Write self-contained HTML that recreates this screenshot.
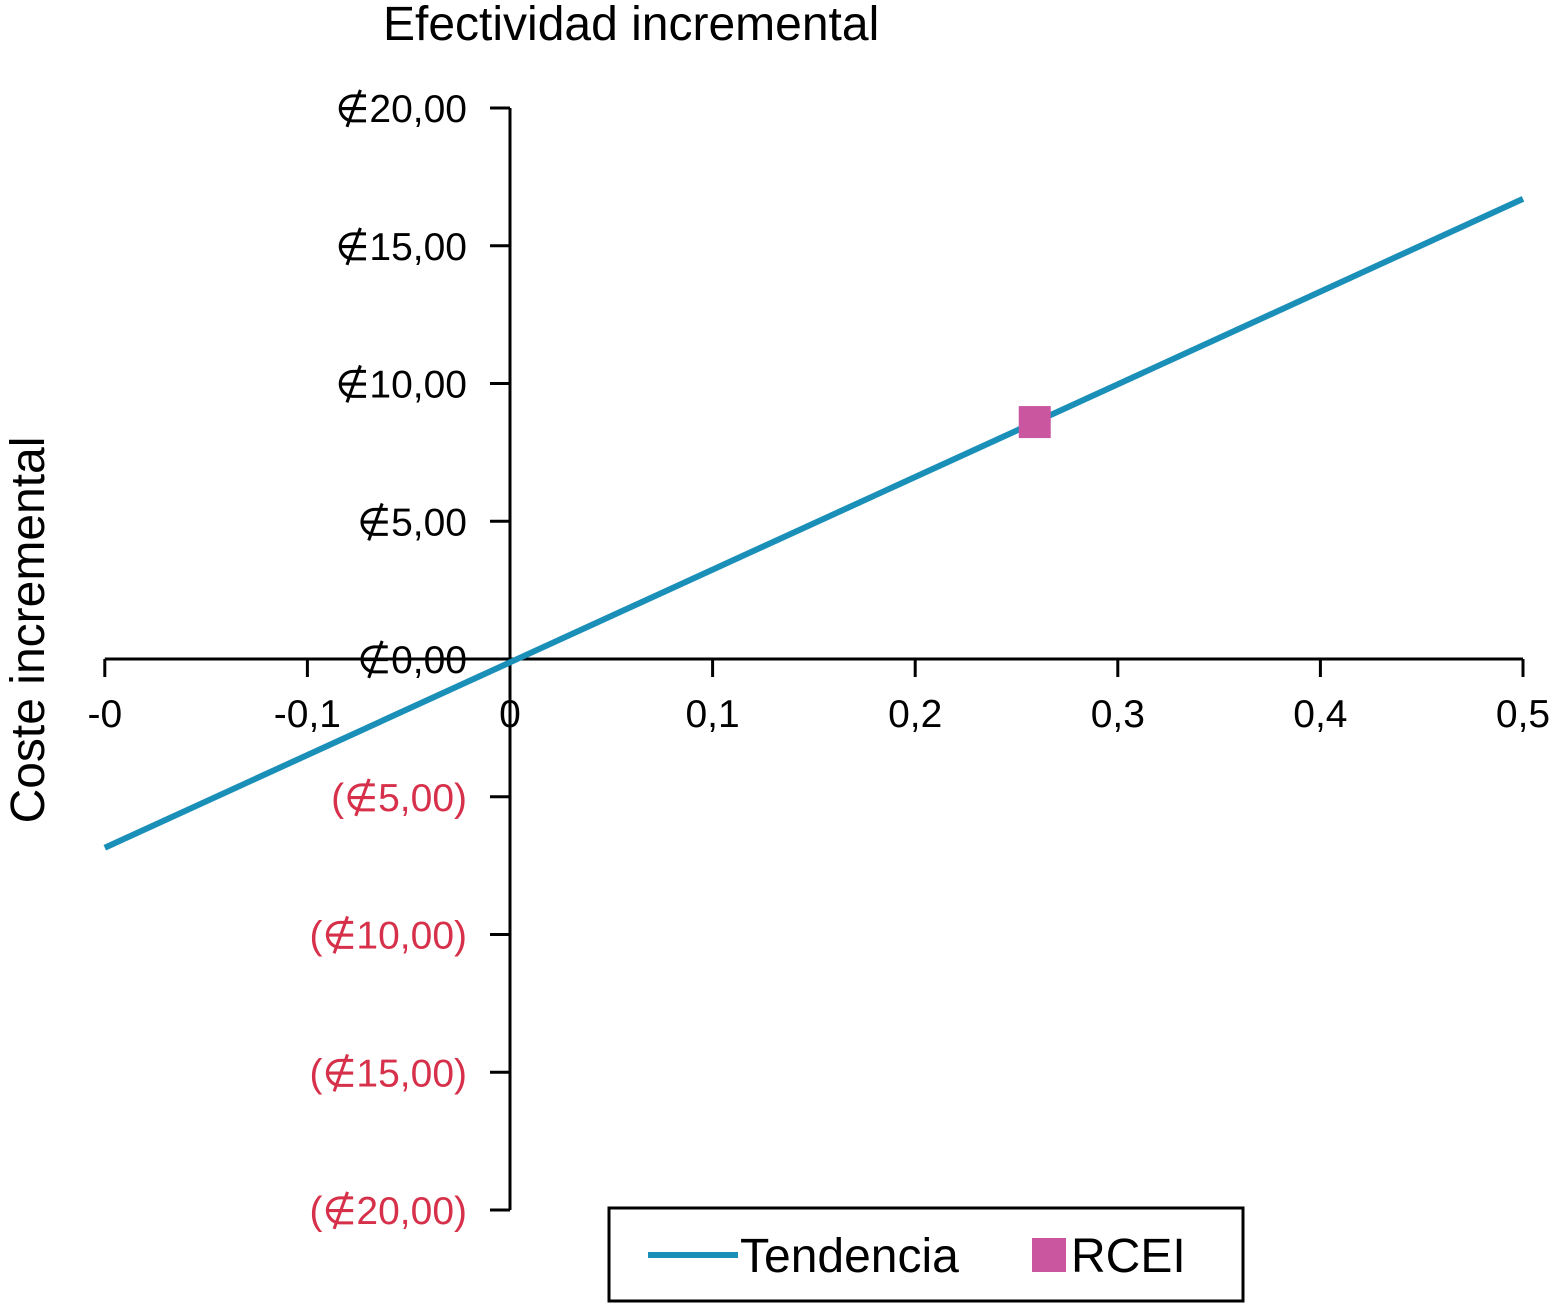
<!DOCTYPE html>
<html><head><meta charset="utf-8"><style>
html,body{margin:0;padding:0;background:#fff}
svg{display:block}
text{font-family:"Liberation Sans",Arial,sans-serif}
</style></head><body>
<svg id="chart" width="1553" height="1304">
<text x="383" y="40" font-size="48" fill="#000">Efectividad incremental</text>
<text transform="translate(44,630) rotate(-90)" text-anchor="middle" font-size="48" fill="#000">Coste incremental</text>
<g id="axes"></g>
<g id="series"></g>
<rect x="609" y="1208" width="634" height="93" fill="#fff" stroke="#000" stroke-width="3"/>
<line x1="648" y1="1255" x2="738" y2="1255" stroke="#1a8fb8" stroke-width="6"/>
<text x="740" y="1272" font-size="48">Tendencia</text>
<rect x="1032" y="1238" width="34" height="34" fill="#c9569f"/>
<text x="1071" y="1272" font-size="48">RCEI</text>
</svg>
<script>
const xTicks=[-0.2,-0.1,0,0.1,0.2,0.3,0.4,0.5];
const xTickLabels=["-0","-0,1","0","0,1","0,2","0,3","0,4","0,5"];
const yTicks=[20,15,10,5,0,-5,-10,-15,-20];
const yTickLabels=["∉20,00","∉15,00","∉10,00","∉5,00","∉0,00","(∉5,00)","(∉10,00)","(∉15,00)","(∉20,00)"];
const trendX=[-0.2,0.5];
const trendY=[-6.85,16.7];
const rceiX=[0.259];
const rceiY=[8.6];
const NS="http://www.w3.org/2000/svg";
const xs=v=>510+(v)*2026;
const ys=v=>659-v*27.55;
function mk(tag,attrs,parent,txt){const e=document.createElementNS(NS,tag);for(const k in attrs)e.setAttribute(k,attrs[k]);if(txt!==undefined)e.textContent=txt;parent.appendChild(e);return e;}
const ax=document.getElementById('axes'),se=document.getElementById('series');
let e=mk('line',{x1:xs(-0.2),x2:xs(0.5),y1:ys(0),y2:ys(0),stroke:'#000','stroke-width':3},ax);


e=mk('line',{x1:510,x2:510,y1:ys(20),y2:ys(-20),stroke:'#000','stroke-width':3},ax);


xTicks.forEach((v,i)=>{
  e=mk('line',{x1:xs(v),x2:xs(v),y1:ys(0),y2:ys(0)+18,stroke:'#000','stroke-width':3},ax);
  
  
  e=mk('text',{x:xs(v),y:727,'font-size':39,'text-anchor':'middle'},ax,xTickLabels[i]);
  
  
});
yTicks.forEach((v,i)=>{
  e=mk('line',{x1:490,x2:510,y1:ys(v),y2:ys(v),stroke:'#000','stroke-width':3},ax);
  
  
  e=mk('text',{x:467,y:ys(v)+14,'font-size':39,'text-anchor':'end',fill:v<0?'#d6304a':'#000'},ax,yTickLabels[i]);
  
  
});
e=mk('line',{x1:xs(trendX[0]),y1:ys(trendY[0]),x2:xs(trendX[1]),y2:ys(trendY[1]),stroke:'#1a8fb8','stroke-width':6},se);


rceiX.forEach((v,i)=>{
  e=mk('rect',{x:xs(v)-16,y:ys(rceiY[i])-16,width:32,height:32,fill:'#c9569f'},se);
  
  
});
</script>
</body></html>
